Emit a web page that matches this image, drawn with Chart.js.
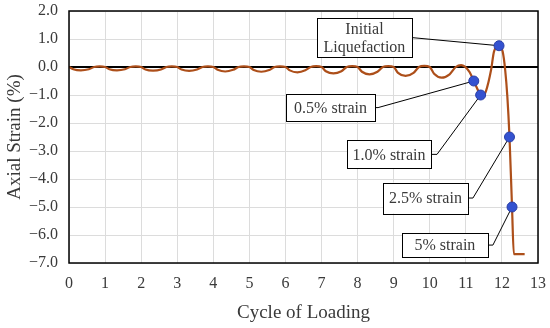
<!DOCTYPE html>
<html>
<head>
<meta charset="utf-8">
<script src="https://cdn.jsdelivr.net/npm/chart.js@4.4.1/dist/chart.umd.min.js"></script>
<style>
  html, body { margin: 0; padding: 0; background: #fff; }
  #wrap { width: 550px; height: 328px; }
</style>
</head>
<body>
<div id="wrap"><canvas id="strain-chart"></canvas></div>
<script>
/* ── DATA ── */
const cycleX = [
  0, 0.12, 0.33, 0.55, 0.7, 0.85,
  1, 1.12, 1.33, 1.55, 1.7, 1.85,
  2, 2.12, 2.33, 2.55, 2.7, 2.85,
  3, 3.12, 3.33, 3.55, 3.7, 3.85,
  4, 4.12, 4.33, 4.55, 4.7, 4.85,
  5, 5.12, 5.33, 5.55, 5.7, 5.85,
  6, 6.12, 6.33, 6.55, 6.7, 6.85,
  7, 7.12, 7.33, 7.55, 7.7, 7.85,
  8, 8.12, 8.33, 8.55, 8.7, 8.85,
  9, 9.12, 9.33, 9.55, 9.7, 9.85,
  10, 10.12, 10.33, 10.55, 10.72, 10.87,
  11.1, 11.22, 11.41, 11.47, 11.56, 11.7, 11.78, 11.92,
  12.02, 12.09, 12.15, 12.21, 12.28, 12.33, 12.63
];
const strainY = [
  0, -0.08, -0.12, -0.08, 0, 0.02,
  0, -0.08, -0.12, -0.08, 0, 0.02,
  0, -0.09, -0.13, -0.09, 0, 0.02,
  0, -0.09, -0.14, -0.09, 0, 0.02,
  0, -0.10, -0.16, -0.10, 0, 0.02,
  0, -0.11, -0.17, -0.11, 0, 0.02,
  0, -0.12, -0.19, -0.12, 0, 0.03,
  0, -0.15, -0.23, -0.15, 0, 0.03,
  0, -0.17, -0.26, -0.17, 0, 0.03,
  0, -0.21, -0.32, -0.21, 0, 0.04,
  0, -0.24, -0.38, -0.26, 0, 0.07,
  -0.17, -0.5, -1.0, -1.04, -0.85, -0.1, 0.55, 0.76,
  0.55, -0.1, -1.05, -2.5, -5.0, -6.68, -6.68
];

// marked states
const markX = [11.92, 11.22, 11.41, 12.21, 12.28];
const markY = [0.76, -0.5, -1.0, -2.5, -5.0];
const markLabels = [['Initial', 'Liquefaction'], ['0.5% strain'], ['1.0% strain'], ['2.5% strain'], ['5% strain']];

const xTickVals = [0, 1, 2, 3, 4, 5, 6, 7, 8, 9, 10, 11, 12, 13];
const yTickVals = [2, 1, 0, -1, -2, -3, -4, -5, -6, -7];

/* ── label box placement (data coords of box centre, box size in px) ── */
const boxPlace = [
  { cx: 8.19, cy: 1.05,  w: 95, h: 39, elbow: 0 },
  { cx: 7.25, cy: -1.45, w: 89, h: 27, elbow: 3 },
  { cx: 8.87, cy: -3.12, w: 84, h: 28, elbow: 6 },
  { cx: 9.88, cy: -4.68, w: 85, h: 31, elbow: 5 },
  { cx: 10.42, cy: -6.36, w: 86, h: 24, elbow: 5 },
];

const FONT = "'Liberation Serif', 'Times New Roman', serif";
const TEXT = '#3a3a3a';

const fmtY = v => (v < 0 ? '\u2212' + Math.abs(v).toFixed(1) : v.toFixed(1));

/* ── plugins ── */
const frame = {
  id: 'frame',
  afterDatasetsDraw(chart) {
    const { ctx, chartArea: a } = chart;
    ctx.save();
    ctx.strokeStyle = '#000';
    ctx.lineWidth = 1.5;
    ctx.strokeRect(a.left, a.top, a.right - a.left, a.bottom - a.top);
    ctx.restore();
  }
};

const callouts = {
  id: 'callouts',
  beforeDatasetsDraw(chart) {
    const { ctx, scales: { x, y } } = chart;
    ctx.save();
    ctx.strokeStyle = '#000';
    ctx.lineWidth = 1;
    markX.forEach((mx, i) => {
      const b = boxPlace[i];
      const bx = x.getPixelForValue(b.cx) + b.w / 2;
      const by = y.getPixelForValue(b.cy);
      ctx.beginPath();
      ctx.moveTo(bx, by);
      ctx.lineTo(bx + b.elbow, by);
      ctx.lineTo(x.getPixelForValue(mx), y.getPixelForValue(markY[i]));
      ctx.stroke();
    });
    ctx.restore();
  },
  afterDatasetsDraw(chart) {
    const { ctx, scales: { x, y } } = chart;
    ctx.save();
    markLabels.forEach((lines, i) => {
      const b = boxPlace[i];
      const cx = x.getPixelForValue(b.cx), cy = y.getPixelForValue(b.cy);
      ctx.fillStyle = '#fff';
      ctx.fillRect(cx - b.w / 2, cy - b.h / 2, b.w, b.h);
      ctx.strokeStyle = '#000';
      ctx.lineWidth = 1;
      ctx.strokeRect(Math.round(cx - b.w / 2) + 0.5, Math.round(cy - b.h / 2) + 0.5, b.w, b.h);
      ctx.fillStyle = TEXT;
      ctx.font = '16px ' + FONT;
      ctx.textAlign = 'center';
      ctx.textBaseline = 'middle';
      const lh = 18;
      lines.forEach((t, j) => {
        ctx.fillText(t, cx, cy + (j - (lines.length - 1) / 2) * lh + 1);
      });
    });
    ctx.restore();
  }
};

/* ── CHART ── */
new Chart(document.getElementById('strain-chart'), {
  type: 'line',
  data: {
    datasets: [
      {
        data: markX.map((v, i) => ({ x: v, y: markY[i] })),
        showLine: false,
        pointRadius: 5,
        pointBackgroundColor: '#3452D0',
        pointBorderColor: '#2A3FA6',
        pointBorderWidth: 1,
        order: 0,
      },
      {
        data: cycleX.map((v, i) => ({ x: v, y: strainY[i] })),
        borderColor: '#AD4F1A',
        borderWidth: 2.2,
        pointRadius: 0,
        cubicInterpolationMode: 'monotone',
        fill: false,
        order: 1,
      }
    ]
  },
  options: {
    responsive: true, maintainAspectRatio: false,
    animation: false,
    layout: { padding: { top: 11, right: 12, left: 0, bottom: 0 } },
    plugins: { legend: { display: false }, tooltip: { enabled: false } },
    scales: {
      x: {
        type: 'linear', min: 0, max: 13,
        afterBuildTicks: s => { s.ticks = xTickVals.map(v => ({ value: v })); },
        afterFit: s => { s.height = 65; s.paddingLeft = 0; s.paddingRight = 0; },
        ticks: { color: TEXT, font: { family: FONT, size: 16 }, padding: 11, maxRotation: 0 },
        grid: { color: '#dcdcdc', lineWidth: 1, drawTicks: false },
        border: { display: false },
        title: { display: true, text: 'Cycle of Loading', color: TEXT, font: { family: FONT, size: 19 }, padding: { top: 6 } },
      },
      y: {
        min: -7, max: 2,
        afterBuildTicks: s => { s.ticks = yTickVals.map(v => ({ value: v })); },
        afterFit: s => { s.width = 69; s.paddingTop = 0; s.paddingBottom = 0; },
        ticks: { color: TEXT, font: { family: FONT, size: 16 }, padding: 11, callback: v => fmtY(v) },
        grid: {
          color: c => c.tick && c.tick.value === 0 ? '#000' : '#dcdcdc',
          lineWidth: c => c.tick && c.tick.value === 0 ? 2 : 1,
          drawTicks: false,
        },
        border: { display: false },
        title: { display: true, text: 'Axial Strain (%)', color: TEXT, font: { family: FONT, size: 19 }, padding: { bottom: 0 } },
      }
    }
  },
  plugins: [frame, callouts]
});
</script>
</body>
</html>
